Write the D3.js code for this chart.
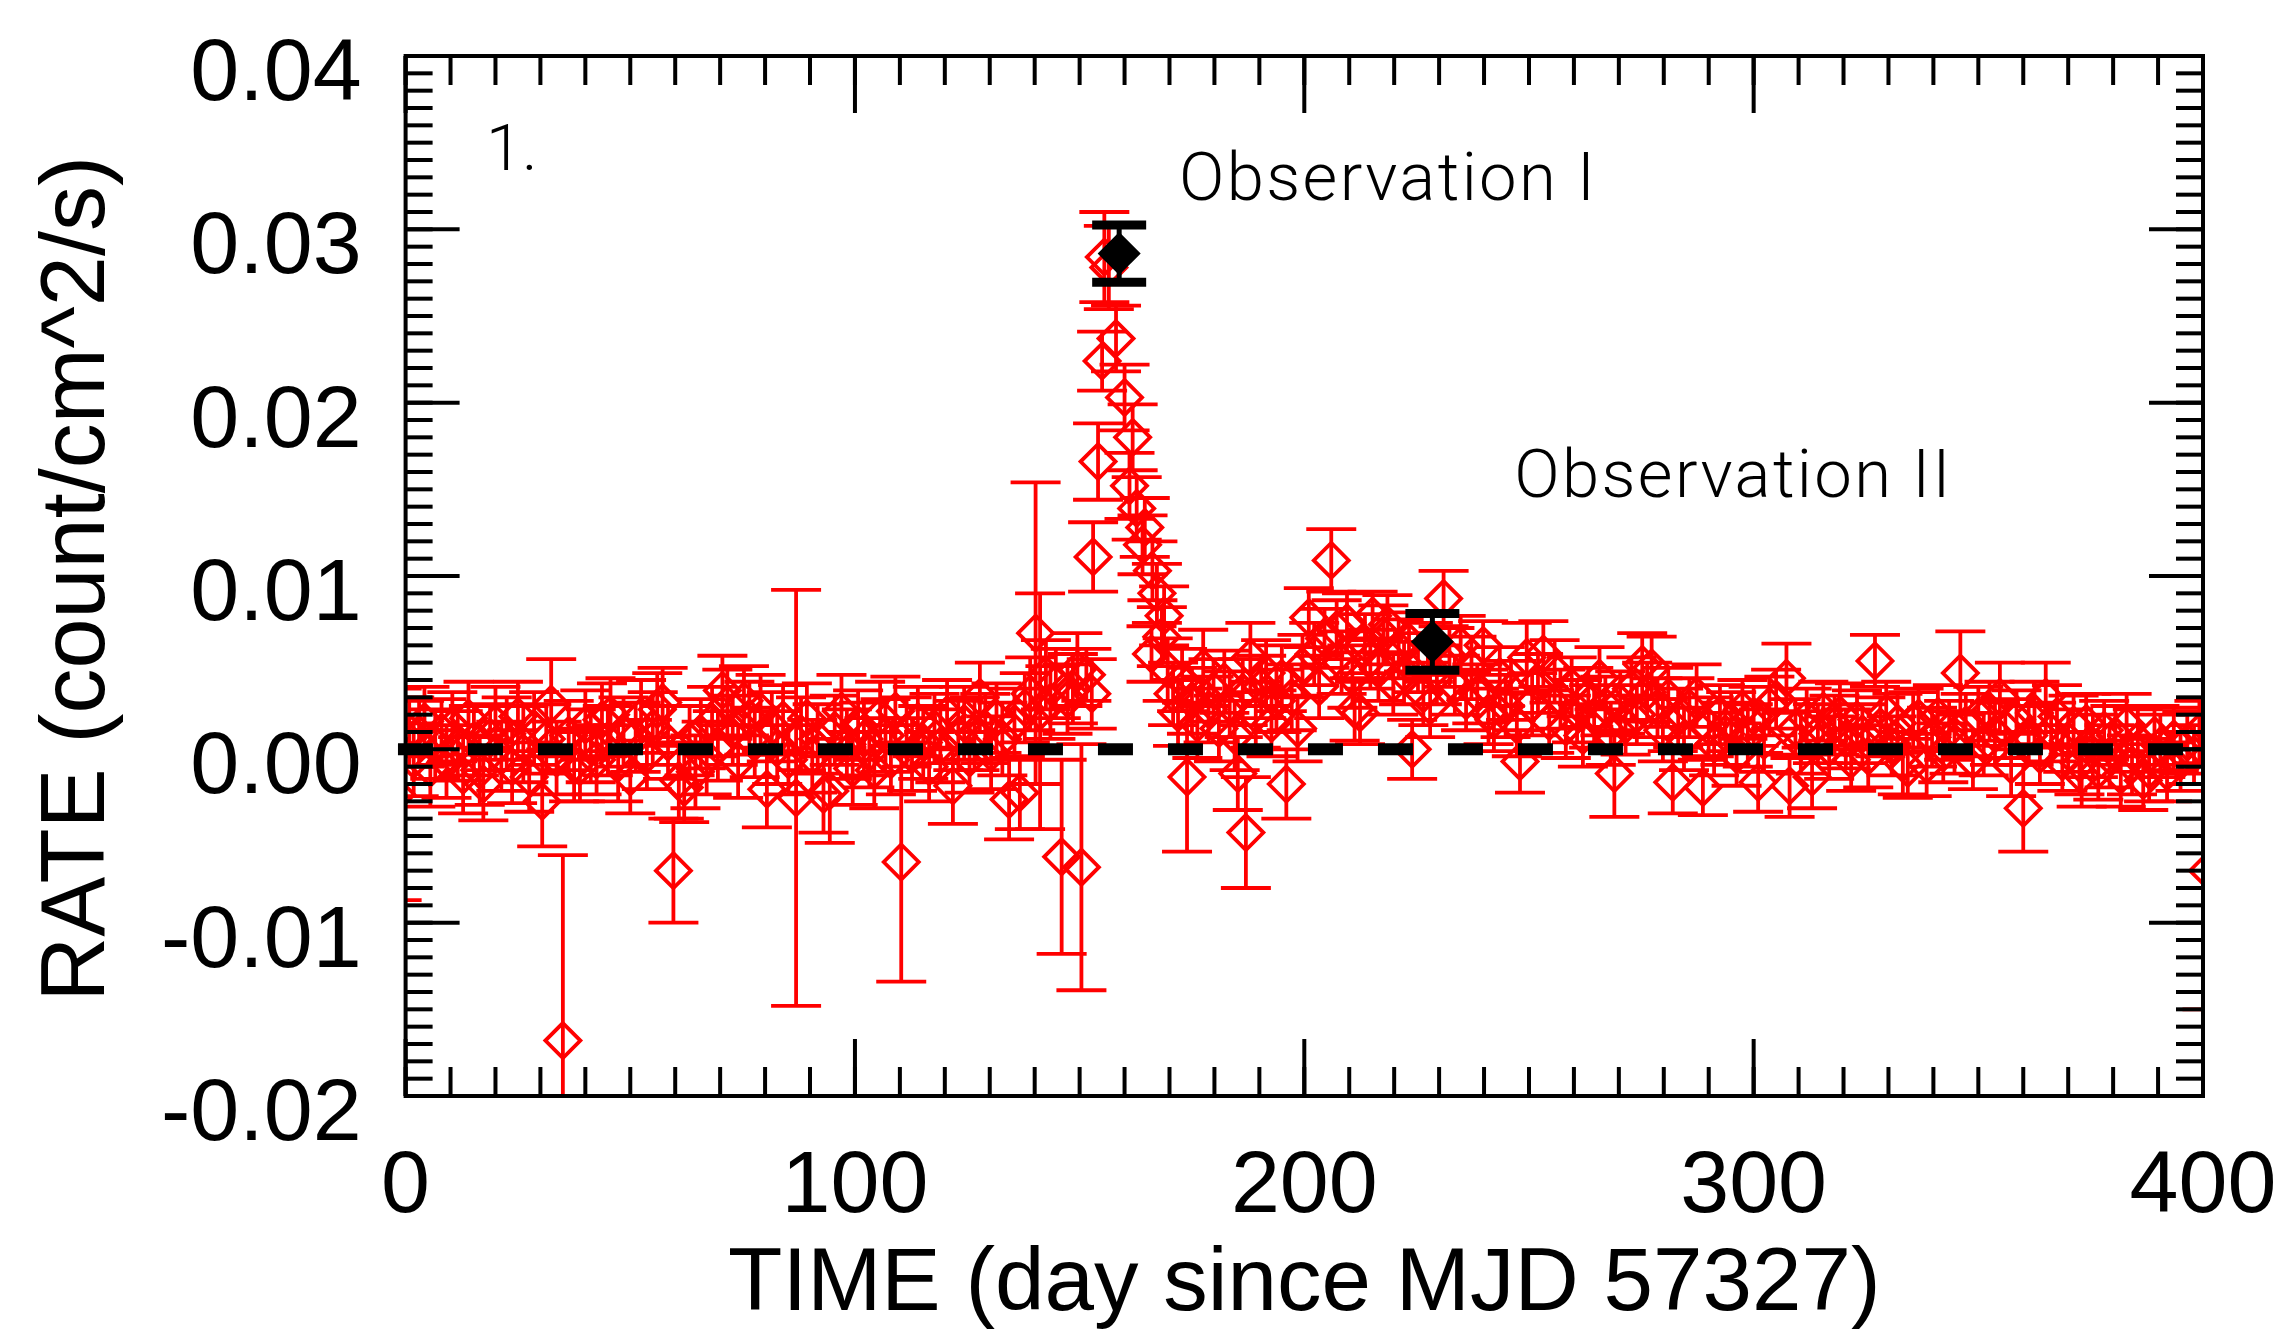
<!DOCTYPE html>
<html><head><meta charset="utf-8">
<script src="https://cdn.jsdelivr.net/npm/d3@7"></script>
<style>html,body{margin:0;padding:0;background:#fff;} svg{display:block;}</style>
</head><body>
<svg id="chart" width="2282" height="1332"></svg>
<script>
// ---------------- data ----------------
const xTickValues = [0, 100, 200, 300, 400];
const xTickLabels = ["0", "100", "200", "300", "400"];
const yTickValues = [-0.02, -0.01, 0.00, 0.01, 0.02, 0.03, 0.04];
const yTickLabels = ["-0.02", "-0.01", "0.00", "0.01", "0.02", "0.03", "0.04"];

const xTitle = "TIME (day since MJD 57327)";
const yTitle = "RATE (count/cm^2/s)";

// red light-curve points: day, rate, 1-sigma error
const redDay = [
  -2.0, 0.8, 1.8, 3.0, 4.2, 5.5, 6.6, 8.0, 9.1, 10.4,
  11.6, 12.8, 14.0, 15.2, 16.5, 17.3, 18.8, 20.0, 21.3, 22.5,
  23.7, 25.0, 26.2, 27.5, 28.6, 30.4, 31.3, 32.4, 33.6, 35.0,
  36.3, 37.5, 38.8, 40.0, 41.2, 42.5, 43.7, 45.0, 45.6, 47.3,
  48.5, 50.0, 51.2, 52.4, 53.7, 55.0, 56.0, 57.2, 58.4, 59.6,
  60.8, 62.0, 63.2, 64.5, 65.7, 67.0, 68.2, 69.5, 70.5, 71.6,
  72.8, 74.0, 75.3, 76.5, 77.7, 79.0, 80.4, 81.5, 82.7, 84.0,
  85.2, 86.9, 88.0, 89.3, 90.5, 91.7, 93.0, 94.4, 95.5, 97.0,
  98.2, 99.5, 100.7, 102.0, 103.2, 104.3, 105.6, 106.8, 108.0, 109.0,
  110.3, 111.5, 112.7, 114.0, 115.2, 116.5, 117.7, 119.0, 120.5, 121.8,
  123.0, 124.3, 125.5, 126.6, 127.8, 129.0, 130.3, 131.5, 132.8, 134.3,
  135.5, 136.7, 137.8, 139.0, 140.2, 141.2, 142.5, 143.5, 144.7, 146.0,
  147.3, 148.5, 149.5, 150.4, 151.5, 152.7, 153.0, 154.1, 155.0, 155.5,
  156.5, 158.1, 160.0, 161.1, 161.8, 162.7, 164.0, 164.5, 166.2, 167.2,
  168.3, 168.8, 166.0, 169.6, 170.8, 171.9, 172.8, 173.9, 175.0, 176.2,
  177.5, 178.7, 179.8, 181.0, 182.2, 183.4, 184.5, 185.2, 186.3, 187.0,
  188.0, 189.2, 190.4, 191.5, 192.7, 193.8, 195.0, 196.0, 197.2, 198.5,
  199.6, 201.0, 202.2, 203.3, 204.5, 206.0, 207.2, 208.3, 209.5, 210.7,
  211.2, 212.4, 213.5, 214.7, 215.2, 216.5, 217.6, 218.5, 219.8, 221.0,
  222.2, 223.3, 224.0, 225.3, 226.5, 227.5, 228.0, 229.5, 231.0, 232.3,
  233.5, 234.8, 236.0, 237.2, 238.5, 239.8, 241.0, 242.2, 243.5, 244.8,
  246.0, 247.3, 248.0, 249.5, 250.7, 252.0, 253.2, 254.5, 255.7, 257.0,
  258.2, 259.5, 260.7, 262.0, 263.2, 264.5, 265.7, 267.0, 268.2, 269.0,
  270.3, 271.5, 272.8, 274.0, 275.2, 276.3, 277.3, 278.6, 279.8, 281.0,
  282.0, 283.2, 284.5, 285.7, 287.3, 288.7, 290.0, 291.2, 292.5, 293.7,
  295.0, 296.2, 297.5, 298.7, 300.0, 301.0, 302.3, 303.5, 305.0, 307.3,
  308.0, 309.3, 310.5, 311.8, 313.0, 314.3, 315.5, 316.8, 318.0, 319.2,
  320.5, 321.7, 323.0, 324.2, 325.5, 327.0, 328.2, 329.5, 330.7, 332.0,
  333.2, 334.3, 335.5, 336.7, 338.5, 339.7, 341.0, 342.2, 343.5, 344.7,
  346.0, 347.2, 348.8, 350.0, 351.2, 352.5, 353.7, 354.8, 356.0, 357.3,
  358.5, 360.0, 361.2, 362.5, 363.7, 365.0, 366.2, 367.5, 368.7, 370.0,
  371.2, 372.5, 373.0, 374.0, 375.5, 376.7, 378.0, 379.2, 380.5, 381.7,
  383.0, 384.2, 385.5, 386.7, 388.0, 389.2, 390.5, 392.0, 393.5, 395.0,
  396.5, 398.0, 399.2, 401.0
];
const redRate = [
  -0.0026, 0.0010, -0.0006, 0.0009, 0.0016, -0.0011, 0.0003, 0.0010, -0.0007, 0.0013,
  0.0002, -0.0015, 0.0018, 0.0005, -0.0012, -0.0020, 0.0007, 0.0015, -0.0004, 0.0009,
  -0.0010, 0.0019, 0.0003, -0.0016, 0.0012, -0.0030, 0.0006, 0.0026, -0.0005, -0.0168,
  0.0008, -0.0009, -0.0010, 0.0014, 0.0002, -0.0006, 0.0017, 0.0005, 0.0020, -0.0008,
  0.0010, -0.0016, 0.0007, 0.0019, -0.0003, 0.0012, 0.0023, 0.0027, 0.0004, -0.0070,
  -0.0018, -0.0022, 0.0005, -0.0013, 0.0009, -0.0005, 0.0016, 0.0002, 0.0034, 0.0026,
  0.0011, -0.0007, 0.0028, 0.0018, 0.0004, 0.0022, -0.0023, 0.0013, 0.0001, 0.0017,
  -0.0006, -0.0028, 0.0009, 0.0018, -0.0004, 0.0006, -0.0026, -0.0024, 0.0011, 0.0022,
  0.0003, -0.0011, 0.0014, 0.0006, -0.0002, -0.0012, 0.0019, 0.0008, -0.0006, 0.0022,
  -0.0065, 0.0010, -0.0003, 0.0016, 0.0004, -0.0010, 0.0012, 0.0002, 0.0020, -0.0021,
  0.0008, 0.0015, -0.0005, 0.0009, 0.0030, 0.0012, -0.0002, 0.0018, 0.0006, -0.0029,
  0.0015, -0.0025, 0.0024, 0.0032, 0.0067, 0.0022, 0.0043, 0.0027, 0.0038, -0.0062,
  0.0029, 0.0035, 0.0046, -0.0068, 0.0043, 0.0032, 0.0111, 0.0166, 0.0224, 0.0284,
  0.0278, 0.0237, 0.0203, 0.0152, 0.0180, 0.0139, 0.0118, 0.0128, 0.0103, 0.0090,
  0.0065, 0.0077, 0.0055, 0.0046, 0.0032, 0.0021, 0.0040, -0.0016, 0.0028, 0.0015,
  0.0047, 0.0023, 0.0034, 0.0012, 0.0039, 0.0026, 0.0008, -0.0014, 0.0033, -0.0048,
  0.0053, 0.0020, 0.0036, 0.0044, 0.0015, 0.0028, 0.0041, -0.0020, 0.0030, 0.0012,
  0.0048, 0.0076, 0.0055, 0.0036, 0.0064, 0.0109, 0.0069, 0.0050, 0.0073, 0.0042,
  0.0023, 0.0021, 0.0061, 0.0052, 0.0077, 0.0046, 0.0066, 0.0072, 0.0038, 0.0058,
  0.0044, 0.0062, 0.0000, 0.0050, 0.0032, 0.0056, 0.0025, 0.0043, 0.0087, 0.0053,
  0.0037, 0.0060, 0.0028, 0.0047, 0.0032, 0.0060, 0.0021, 0.0017, 0.0042, 0.0025,
  0.0034, 0.0014, -0.0007, 0.0053, 0.0026, 0.0038, 0.0055, 0.0016, 0.0045, 0.0029,
  0.0013, 0.0036, 0.0022, 0.0008, 0.0030, 0.0019, 0.0041, 0.0025, 0.0009, -0.0014,
  0.0027, 0.0014, 0.0035, 0.0020, 0.0049, 0.0033, 0.0047, 0.0024, 0.0011, 0.0030,
  -0.0019, 0.0018, 0.0006, 0.0024, 0.0031, -0.0022, 0.0013, 0.0003, 0.0020, 0.0009,
  0.0016, -0.0003, 0.0023, 0.0008, 0.0019, -0.0019, 0.0005, 0.0025, 0.0029, 0.0041,
  -0.0021, 0.0012, 0.0004, 0.0018, -0.0016, 0.0009, 0.0022, 0.0001, 0.0014, 0.0020,
  0.0006, -0.0006, 0.0017, 0.0009, -0.0004, 0.0051, 0.0013, 0.0021, 0.0002, 0.0015,
  -0.0008, -0.0011, 0.0016, 0.0018, -0.0009, 0.0007, 0.0019, -0.0002, 0.0011, 0.0004,
  0.0044, 0.0014, -0.0006, 0.0019, 0.0003, 0.0022, 0.0009, 0.0030, 0.0012, -0.0009,
  0.0017, -0.0034, 0.0008, 0.0021, -0.0003, 0.0030, 0.0010, 0.0019, -0.0007, 0.0005,
  0.0014, -0.0008, -0.0015, 0.0015, 0.0002, -0.0012, 0.0011, -0.0004, 0.0008, -0.0015,
  0.0014, -0.0009, 0.0005, -0.0018, -0.0012, 0.0008, 0.0002, -0.0013, 0.0006, -0.0007,
  0.0004, -0.0003, 0.0010, -0.0070
];
const redErr = [
  0.0061, 0.0020, 0.0021, 0.0019, 0.0020, 0.0022, 0.0020, 0.0019, 0.0021, 0.0020,
  0.0020, 0.0022, 0.0021, 0.0020, 0.0020, 0.0021, 0.0019, 0.0021, 0.0020, 0.0021,
  0.0021, 0.0020, 0.0022, 0.0020, 0.0021, 0.0026, 0.0020, 0.0026, 0.0021, 0.0107,
  0.0020, 0.0021, 0.0020, 0.0020, 0.0021, 0.0020, 0.0021, 0.0020, 0.0021, 0.0022,
  0.0020, 0.0021, 0.0020, 0.0021, 0.0020, 0.0021, 0.0021, 0.0020, 0.0021, 0.0030,
  0.0022, 0.0020, 0.0020, 0.0021, 0.0020, 0.0021, 0.0020, 0.0020, 0.0020, 0.0020,
  0.0020, 0.0021, 0.0020, 0.0021, 0.0020, 0.0021, 0.0022, 0.0020, 0.0021, 0.0020,
  0.0020, 0.0120, 0.0021, 0.0020, 0.0021, 0.0020, 0.0022, 0.0030, 0.0020, 0.0021,
  0.0020, 0.0021, 0.0020, 0.0021, 0.0020, 0.0022, 0.0020, 0.0021, 0.0020, 0.0020,
  0.0069, 0.0020, 0.0021, 0.0020, 0.0021, 0.0020, 0.0020, 0.0021, 0.0020, 0.0022,
  0.0020, 0.0021, 0.0020, 0.0021, 0.0020, 0.0020, 0.0021, 0.0020, 0.0021, 0.0023,
  0.0020, 0.0021, 0.0020, 0.0021, 0.0087, 0.0068, 0.0020, 0.0021, 0.0020, 0.0056,
  0.0020, 0.0020, 0.0021, 0.0071, 0.0015, 0.0020, 0.0020, 0.0022, 0.0017, 0.0026,
  0.0024, 0.0019, 0.0019, 0.0019, 0.0019, 0.0018, 0.0017, 0.0017, 0.0017, 0.0017,
  0.0017, 0.0017, 0.0016, 0.0018, 0.0018, 0.0019, 0.0018, 0.0043, 0.0019, 0.0020,
  0.0022, 0.0019, 0.0018, 0.0019, 0.0018, 0.0019, 0.0020, 0.0021, 0.0019, 0.0032,
  0.0020, 0.0019, 0.0018, 0.0019, 0.0019, 0.0018, 0.0019, 0.0020, 0.0019, 0.0019,
  0.0018, 0.0017, 0.0018, 0.0018, 0.0017, 0.0018, 0.0017, 0.0018, 0.0017, 0.0018,
  0.0018, 0.0018, 0.0017, 0.0017, 0.0014, 0.0018, 0.0017, 0.0017, 0.0018, 0.0017,
  0.0018, 0.0017, 0.0017, 0.0017, 0.0018, 0.0017, 0.0018, 0.0017, 0.0016, 0.0017,
  0.0017, 0.0017, 0.0017, 0.0018, 0.0017, 0.0014, 0.0018, 0.0018, 0.0017, 0.0018,
  0.0017, 0.0018, 0.0018, 0.0020, 0.0018, 0.0017, 0.0019, 0.0018, 0.0018, 0.0017,
  0.0018, 0.0017, 0.0018, 0.0018, 0.0017, 0.0018, 0.0018, 0.0017, 0.0018, 0.0025,
  0.0018, 0.0017, 0.0018, 0.0017, 0.0018, 0.0017, 0.0018, 0.0017, 0.0018, 0.0017,
  0.0018, 0.0017, 0.0018, 0.0017, 0.0018, 0.0016, 0.0017, 0.0018, 0.0017, 0.0018,
  0.0017, 0.0018, 0.0017, 0.0018, 0.0017, 0.0017, 0.0018, 0.0017, 0.0017, 0.0020,
  0.0018, 0.0017, 0.0018, 0.0017, 0.0018, 0.0017, 0.0017, 0.0018, 0.0017, 0.0018,
  0.0017, 0.0018, 0.0017, 0.0017, 0.0018, 0.0015, 0.0017, 0.0018, 0.0017, 0.0017,
  0.0018, 0.0017, 0.0017, 0.0017, 0.0018, 0.0017, 0.0018, 0.0017, 0.0017, 0.0018,
  0.0024, 0.0018, 0.0017, 0.0017, 0.0018, 0.0017, 0.0018, 0.0020, 0.0017, 0.0018,
  0.0017, 0.0025, 0.0017, 0.0018, 0.0017, 0.0020, 0.0017, 0.0018, 0.0017, 0.0018,
  0.0017, 0.0018, 0.0018, 0.0017, 0.0018, 0.0017, 0.0017, 0.0018, 0.0017, 0.0018,
  0.0018, 0.0017, 0.0018, 0.0017, 0.0018, 0.0017, 0.0018, 0.0017, 0.0018, 0.0017,
  0.0018, 0.0017, 0.0018, 0.0080
];

// black: the two observation epochs
const obsDay = [158.8, 228.5];
const obsRate = [0.0286, 0.0062];
const obsErr = [0.00165, 0.00164];

// zero reference line (day range, rate)
const zeroLineDays = [-1.7, 400];
const zeroLineRate = 0;

// annotations: text, day, rate (anchored at text start / baseline)
const noteText = ["1.", "Observation I", "Observation II"];
const noteDay = [17.9, 172.1, 246.7];
const noteRate = [0.0334, 0.0317, 0.01455];

// ---------------- drawing ----------------
const plot = {left: 405.6, right: 2203, top: 56, bottom: 1096};
const x = d3.scaleLinear().domain([0, 400]).range([plot.left, plot.right]);
const y = d3.scaleLinear().domain([-0.02, 0.04]).range([plot.bottom, plot.top]);

const svg = d3.select("#chart");
const FONT = "'Liberation Sans', Arial, Helvetica, sans-serif";
const LIGHT = "Roboto, 'Open Sans', sans-serif";

svg.append("rect").attr("width", 2282).attr("height", 1332).attr("fill", "#fff");

svg.append("defs").append("clipPath").attr("id", "plotclip")
  .append("rect")
  .attr("x", plot.left).attr("y", plot.top)
  .attr("width", plot.right - plot.left).attr("height", plot.bottom - plot.top);

const diamond = s => `M0,${-s}L${s},0L0,${s}L${-s},0Z`;

const red = redDay.map((d, i) => ({t: d, r: redRate[i], e: redErr[i]}));
const RED = "#ff0000";
const gRed = svg.append("g").attr("clip-path", "url(#plotclip)");
const pts = gRed.selectAll("g.pt").data(red).join("g").attr("class", "pt");
const capHalf = 25;
pts.append("line")
  .attr("x1", d => x(d.t)).attr("x2", d => x(d.t))
  .attr("y1", d => y(d.r + d.e)).attr("y2", d => y(d.r - d.e))
  .attr("stroke", RED).attr("stroke-width", 3.8);
pts.append("line")
  .attr("x1", d => x(d.t) - capHalf).attr("x2", d => x(d.t) + capHalf)
  .attr("y1", d => y(d.r + d.e)).attr("y2", d => y(d.r + d.e))
  .attr("stroke", RED).attr("stroke-width", 3.8);
pts.append("line")
  .attr("x1", d => x(d.t) - capHalf).attr("x2", d => x(d.t) + capHalf)
  .attr("y1", d => y(d.r - d.e)).attr("y2", d => y(d.r - d.e))
  .attr("stroke", RED).attr("stroke-width", 3.8);
pts.append("path")
  .attr("d", diamond(17.5))
  .attr("transform", d => `translate(${x(d.t)},${y(d.r)})`)
  .attr("fill", "none").attr("stroke", RED).attr("stroke-width", 3.8)
  .attr("stroke-linejoin", "miter");

// dashed zero line
svg.append("line")
  .attr("x1", x(zeroLineDays[0])).attr("x2", x(zeroLineDays[1]))
  .attr("y1", y(zeroLineRate)).attr("y2", y(zeroLineRate))
  .attr("stroke", "#000").attr("stroke-width", 12)
  .attr("stroke-dasharray", "35 35");

// black observation points
const obs = obsDay.map((d, i) => ({t: d, r: obsRate[i], e: obsErr[i]}));
const gObs = svg.append("g").selectAll("g").data(obs).join("g");
gObs.append("line")
  .attr("x1", d => x(d.t)).attr("x2", d => x(d.t))
  .attr("y1", d => y(d.r + d.e)).attr("y2", d => y(d.r - d.e))
  .attr("stroke", "#000").attr("stroke-width", 5);
[1, -1].forEach(sgn => {
  gObs.append("line")
    .attr("x1", d => x(d.t) - 27).attr("x2", d => x(d.t) + 27)
    .attr("y1", d => y(d.r + sgn * d.e)).attr("y2", d => y(d.r + sgn * d.e))
    .attr("stroke", "#000").attr("stroke-width", 9);
});
gObs.append("path")
  .attr("d", diamond(21.5))
  .attr("transform", d => `translate(${x(d.t)},${y(d.r)})`)
  .attr("fill", "#000");

// axes box and ticks
const axisG = svg.append("g").attr("stroke", "#000").attr("stroke-width", 4);
axisG.append("rect")
  .attr("x", plot.left).attr("y", plot.top)
  .attr("width", plot.right - plot.left).attr("height", plot.bottom - plot.top)
  .attr("fill", "none").attr("stroke-linejoin", "miter");

const xMinor = x.ticks(40), xMajor = x.ticks(4);
const yMinor = y.ticks(60), yMajor = y.ticks(6);
const XMIN = 29, XMAJ = 57, YMIN = 27, YMAJ = 54;
function vTicks(vals, len) {
  vals.forEach(v => {
    axisG.append("line").attr("x1", x(v)).attr("x2", x(v))
      .attr("y1", plot.bottom).attr("y2", plot.bottom - len);
    axisG.append("line").attr("x1", x(v)).attr("x2", x(v))
      .attr("y1", plot.top).attr("y2", plot.top + len);
  });
}
function hTicks(vals, len) {
  vals.forEach(v => {
    axisG.append("line").attr("y1", y(v)).attr("y2", y(v))
      .attr("x1", plot.left).attr("x2", plot.left + len);
    axisG.append("line").attr("y1", y(v)).attr("y2", y(v))
      .attr("x1", plot.right).attr("x2", plot.right - len);
  });
}
vTicks(xMinor, XMIN); vTicks(xMajor, XMAJ);
hTicks(yMinor, YMIN); hTicks(yMajor, YMAJ);

// tick labels
const labG = svg.append("g").attr("font-family", FONT).attr("font-size", 88).attr("fill", "#000");
labG.selectAll("text.xl").data(xTickValues).join("text")
  .attr("x", d => x(d)).attr("y", plot.bottom + 116)
  .attr("text-anchor", "middle")
  .text((d, i) => xTickLabels[i]);
labG.selectAll("text.yl").data(yTickValues).join("text")
  .attr("x", plot.left - 44).attr("y", d => y(d) + 44)
  .attr("text-anchor", "end")
  .text((d, i) => yTickLabels[i]);

// axis titles
svg.append("text")
  .attr("x", (plot.left + plot.right) / 2).attr("y", 1310)
  .attr("text-anchor", "middle").attr("font-family", FONT).attr("font-size", 89)
  .text(xTitle);
svg.append("text")
  .attr("transform", `translate(104,${(plot.top + plot.bottom) / 2 + 3}) rotate(-90)`)
  .attr("text-anchor", "middle").attr("font-family", FONT).attr("font-size", 90)
  .text(yTitle);

// annotations
svg.append("g").selectAll("text").data(noteText).join("text")
  .attr("x", (d, i) => x(noteDay[i])).attr("y", (d, i) => y(noteRate[i]))
  .attr("font-family", LIGHT).attr("font-weight", 300)
  .attr("font-size", (d, i) => i === 0 ? 65 : 67)
  .attr("letter-spacing", (d, i) => i === 0 ? 0 : 2.4)
  .attr("fill", "#000")
  .text(d => d);
</script>
</body></html>
